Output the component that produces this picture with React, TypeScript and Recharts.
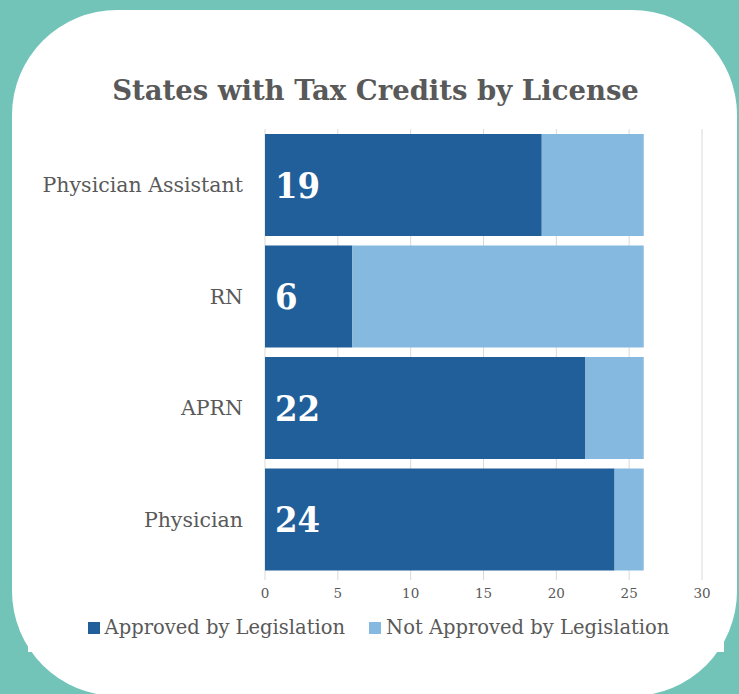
import { BarChart, Bar, XAxis, YAxis, CartesianGrid, LabelList } from "recharts";

const categories = ["Physician Assistant", "RN", "APRN", "Physician"];
const approved = [19, 6, 22, 24];
const notApproved = [7, 20, 4, 2];
const xTicks = [0, 5, 10, 15, 20, 25, 30];
const seriesNames = ["Approved by Legislation", "Not Approved by Legislation"];
const seriesColors = ["#215f9a", "#85b9df"];

const data = categories.map((name, i) => ({
  name,
  approved: approved[i],
  notApproved: notApproved[i],
}));

const FONT = "'DejaVu Serif', serif";
const GREY = "#595959";

export default function App() {
  return (
    <div
      style={{
        position: "fixed",
        left: 0,
        top: 0,
        width: 739,
        height: 694,
        background: "#72c4b9",
        overflow: "hidden",
        fontFamily: FONT,
      }}
    >
      <div
        style={{
          position: "absolute",
          left: 12,
          top: 10,
          width: 725,
          height: 686,
          background: "#fff",
          borderRadius: 105,
        }}
      />
      <div
        style={{
          position: "absolute",
          left: 28,
          top: 65,
          width: 696,
          height: 587,
          background: "#fff",
        }}
      />
      <div
        style={{
          position: "absolute",
          left: 0,
          width: 751,
          top: 74,
          textAlign: "center",
          fontWeight: "bold",
          fontSize: 27.5,
          color: GREY,
          fontFamily: FONT,
        }}
      >
        States with Tax Credits by License
      </div>
      <div style={{ position: "absolute", left: 0, top: 0 }}>
        <BarChart
          width={739}
          height={694}
          data={data}
          layout="vertical"
          barCategoryGap={5}
          margin={{ top: 129, right: 37, bottom: 89, left: 0 }}
        >
          <CartesianGrid horizontal={false} stroke="#d9d9d9" />
          <XAxis
            type="number"
            domain={[0, 30]}
            ticks={xTicks}
            axisLine={false}
            tickLine={{ stroke: "#d9d9d9" }}
            tickSize={5}
            tickMargin={8}
            height={30}
            tick={{ fontSize: 13.5, fill: GREY, fontFamily: FONT }}
          />
          <YAxis
            type="category"
            dataKey="name"
            width={265}
            axisLine={false}
            tickLine={false}
            tickSize={0}
            tickMargin={22}
            tick={{ fontSize: 20.5, fill: GREY, fontFamily: FONT }}
          />
          <Bar
            dataKey="approved"
            stackId="a"
            fill={seriesColors[0]}
            isAnimationActive={false}
          >
            <LabelList
              dataKey="approved"
              position="insideLeft"
              offset={10}
              fill="#fff"
              style={{
                fontSize: 36,
                fontWeight: "bold",
                fontFamily: "'DejaVu Serif Condensed', 'DejaVu Serif', serif",
              }}
            />
          </Bar>
          <Bar
            dataKey="notApproved"
            stackId="a"
            fill={seriesColors[1]}
            isAnimationActive={false}
          />
        </BarChart>
      </div>
      <div
        style={{
          position: "absolute",
          left: 0,
          width: 757,
          top: 616,
          display: "flex",
          justifyContent: "center",
          gap: 24,
          fontSize: 19.5,
          color: GREY,
        }}
      >
        {seriesNames.map((n, i) => (
          <div key={n} style={{ display: "flex", alignItems: "center", gap: 5 }}>
            <span
              style={{
                display: "inline-block",
                width: 12,
                height: 12,
                background: seriesColors[i],
              }}
            />
            <span>{n}</span>
          </div>
        ))}
      </div>
    </div>
  );
}
